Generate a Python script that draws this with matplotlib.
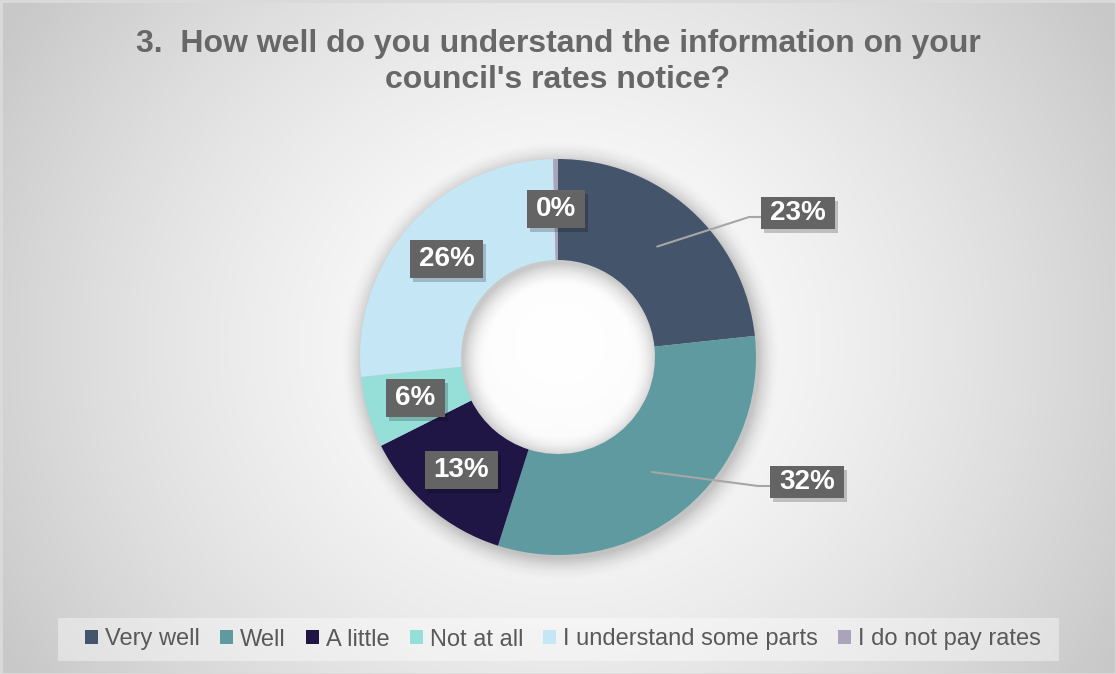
import numpy as np
import matplotlib
matplotlib.use("Agg")
import matplotlib.pyplot as plt
from matplotlib.patches import Patch, Rectangle

plt.rcParams['font.family'] = ['Liberation Sans', 'DejaVu Sans']

# Data (shares, in percent)
categories = ["Very well", "Well", "A little", "Not at all",
              "I understand some parts", "I do not pay rates"]
shares = [23.3, 31.6, 12.7, 5.8, 26.2, 0.4]
colors = ["#44546A", "#5E9AA0", "#1F1646", "#96DFD8", "#C5E6F5", "#A9A4BC"]
title = "3.  How well do you understand the information on your\ncouncil's rates notice?"

# Layout (pixel units, origin bottom-left)
W, H = 1116, 674
cx, cy = 558, 317
R = 198
ring = 101
outside = {"Very well": (240, 144), "Well": (249, -125)}

fig = plt.figure(figsize=(W / 100, H / 100), dpi=100)
ax = fig.add_axes([0, 0, 1, 1])
ax.set_xlim(0, W)
ax.set_ylim(0, H)
ax.axis("off")

# radial grey background
yy, xx = np.mgrid[0:H, 0:W]
rr = np.sqrt(((xx - 560) / 650.0) ** 2 + ((yy - 330) / 600.0) ** 2)
shade = 1.0 - (55 / 255.0) * np.clip(rr, 0, 1) ** 1.5
bg = np.dstack([shade, shade, shade])
ax.imshow(bg, extent=(0, W, 0, H), origin="lower", zorder=0, aspect="auto")
ax.add_patch(Rectangle((0.5, 0.5), W - 1, H - 1, fill=False,
                       edgecolor="#DADADA", lw=2, zorder=1))

# soft shadow around the ring
sx, sy = cx + 2, cy - 4
d_all = np.sqrt((xx - sx) ** 2 + (yy - sy) ** 2)
dist = np.where(d_all > R, d_all - R, np.where(d_all < R - ring, (R - ring) - d_all, 0))
alpha = 0.2 * np.clip(1 - dist / 24.0, 0, 1) ** 2
alpha[dist == 0] = 0.2
sh = np.zeros((H, W, 4))
sh[..., 3] = alpha
ax.imshow(sh, extent=(0, W, 0, H), origin="lower", zorder=1, aspect="auto")

wedges, _ = ax.pie(shares, colors=colors, startangle=90, counterclock=False,
                   center=(cx, cy), radius=R, frame=True,
                   wedgeprops=dict(width=ring, linewidth=0))
for w in wedges:
    w.set_zorder(2)
ax.set_xlim(0, W)
ax.set_ylim(0, H)
ax.axis("off")

fig.canvas.draw()
renderer = fig.canvas.get_renderer()


def label_box(x, y, txt, bh):
    t = ax.text(x, y, txt, ha="center", va="center", color="white",
                fontsize=20, fontweight="bold", zorder=6)
    bb = t.get_window_extent(renderer)
    bw = bb.width + 18
    ax.add_patch(Rectangle((x - bw / 2 + 3, y - bh / 2 - 4), bw, bh,
                           facecolor="black", alpha=0.2, lw=0, zorder=4))
    ax.add_patch(Rectangle((x - bw / 2, y - bh / 2), bw, bh,
                           facecolor="#646464", lw=0, zorder=5))
    return bw


for w, name, val in zip(wedges, categories, shares):
    mid = np.deg2rad((w.theta1 + w.theta2) / 2)
    px = cx + 0.75 * R * np.cos(mid)
    py = cy + 0.75 * R * np.sin(mid)
    txt = "%.0f%%" % val
    if name in outside:
        ox, oy = outside[name]
        lx, ly = cx + ox, cy + oy
        bw = label_box(lx, ly, txt, 32)
        left = lx - bw / 2
        ax.plot([px, left - 12, left], [py, ly - 4, ly - 4],
                color="#A6A6A6", lw=1.5, zorder=3, solid_capstyle="round")
    else:
        label_box(px, py, txt, 38)

# title
fig.text(0.5, 1 - 62 / H, title, ha="center", va="center", fontsize=23,
         fontweight="bold", color="#676767", linespacing=1.3)

# legend band
ax.add_patch(Rectangle((58, H - 661), 1001, 43, facecolor="white",
                       alpha=0.4, lw=0, zorder=2))
handles = [Patch(facecolor=c, edgecolor="none") for c in colors]
fig.legend(handles, categories, loc="center", bbox_to_anchor=(563 / W, 34.5 / H),
           ncol=6, frameon=False, fontsize=17, labelcolor="#595959",
           handlelength=0.55, handleheight=0.55, handletextpad=0.3,
           columnspacing=0.85, borderpad=0)

fig.savefig("out.png", dpi=100)
